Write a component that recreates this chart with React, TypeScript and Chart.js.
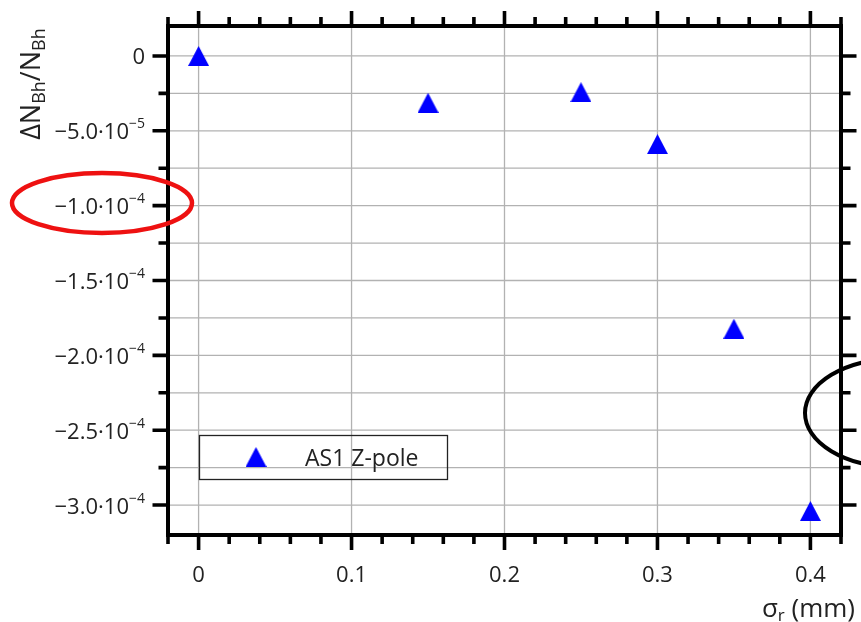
import React, { useEffect, useRef } from "react";
import { Chart, registerables } from "chart.js";

Chart.register(...registerables);

// Measured points: relative change of the normal harmonic vs. radial misalignment
const sigmaR = [0, 0.15, 0.25, 0.3, 0.35, 0.4];
const deltaN = [0, -3.13e-5, -2.42e-5, -5.89e-5, -1.822e-4, -3.04e-4];
const seriesLabel = "AS1 Z-pole";

// Axis ticks
const xMajorTicks = [0, 0.1, 0.2, 0.3, 0.4];
const xTickLabels = ["0", "0.1", "0.2", "0.3", "0.4"];
const xMinorTicks = [
  -0.02, 0.02, 0.04, 0.06, 0.08, 0.12, 0.14, 0.16, 0.18, 0.22, 0.24, 0.26,
  0.28, 0.32, 0.34, 0.36, 0.38, 0.42,
];
const yMajorTicks = [0, -5e-5, -1e-4, -1.5e-4, -2e-4, -2.5e-4, -3e-4];
const yTickMantissas = ["0", "−5.0·10", "−1.0·10", "−1.5·10", "−2.0·10", "−2.5·10", "−3.0·10"];
const yTickExponents = ["", "−5", "−4", "−4", "−4", "−4", "−4"];
const yMinorTicks = [-2.5e-5, -7.5e-5, -1.25e-4, -1.75e-4, -2.25e-4, -2.75e-4];

const FONT = '"Open Sans", "Noto Sans", "DejaVu Sans", sans-serif';
const TEXT = "#222222";

type Seg = { text: string; size: number; dy?: number };

function richWidth(ctx: CanvasRenderingContext2D, segs: Seg[]) {
  let w = 0;
  for (const s of segs) {
    ctx.font = `${s.size}px ${FONT}`;
    w += ctx.measureText(s.text).width;
  }
  return w;
}

function drawRich(
  ctx: CanvasRenderingContext2D,
  segs: Seg[],
  x: number,
  y: number,
  align: "left" | "right" | "center"
) {
  const w = richWidth(ctx, segs);
  let cx = align === "left" ? x : align === "right" ? x - w : x - w / 2;
  ctx.textAlign = "left";
  ctx.textBaseline = "alphabetic";
  for (const s of segs) {
    ctx.font = `${s.size}px ${FONT}`;
    ctx.fillText(s.text, cx, y + (s.dy || 0));
    cx += ctx.measureText(s.text).width;
  }
}

function makeMarker() {
  const c = document.createElement("canvas");
  c.width = 21;
  c.height = 20;
  const m = c.getContext("2d")!;
  m.fillStyle = "#0000ff";
  m.beginPath();
  m.moveTo(10.5, 0);
  m.lineTo(21, 20);
  m.lineTo(0, 20);
  m.closePath();
  m.fill();
  return c;
}

const framePlugin = {
  id: "frameAndLabels",
  beforeDatasetsDraw(chart: any) {
    const { ctx, chartArea } = chart;
    const xs = chart.scales.x;
    const ys = chart.scales.y;
    const { left, right, top, bottom } = chartArea;
    ctx.save();
    ctx.strokeStyle = "#b2b2b2";
    ctx.lineWidth = 1.3;
    ctx.beginPath();
    for (const v of xMajorTicks) {
      const px = xs.getPixelForValue(v);
      ctx.moveTo(px, top);
      ctx.lineTo(px, bottom);
    }
    for (const v of [...yMajorTicks, ...yMinorTicks]) {
      const py = ys.getPixelForValue(v);
      ctx.moveTo(left, py);
      ctx.lineTo(right, py);
    }
    ctx.stroke();
    ctx.restore();
  },
  afterDatasetsDraw(chart: any, _args: any, opts: any) {
    const { ctx, chartArea } = chart;
    const xs = chart.scales.x;
    const ys = chart.scales.y;
    const { left, right, top, bottom } = chartArea;
    ctx.save();

    // frame
    ctx.strokeStyle = "#000";
    ctx.lineWidth = 4;
    ctx.lineJoin = "miter";
    ctx.strokeRect(left, top, right - left, bottom - top);

    // ticks on all four sides, pointing outward
    ctx.lineWidth = 3.6;
    ctx.lineCap = "butt";
    ctx.beginPath();
    const xTick = (v: number, len: number) => {
      const px = xs.getPixelForValue(v);
      ctx.moveTo(px, bottom);
      ctx.lineTo(px, bottom + len);
      ctx.moveTo(px, top);
      ctx.lineTo(px, top - len);
    };
    const yTick = (v: number, len: number) => {
      const py = ys.getPixelForValue(v);
      ctx.moveTo(left, py);
      ctx.lineTo(left - len, py);
      ctx.moveTo(right, py);
      ctx.lineTo(right + len, py);
    };
    xMajorTicks.forEach((v) => xTick(v, 15));
    xMinorTicks.forEach((v) => xTick(v, 9));
    yMajorTicks.forEach((v) => yTick(v, 15.5));
    yMinorTicks.forEach((v) => yTick(v, 9.5));
    ctx.stroke();

    // tick labels
    ctx.fillStyle = TEXT;
    xMajorTicks.forEach((v, i) => {
      drawRich(ctx, [{ text: xTickLabels[i], size: 22 }], xs.getPixelForValue(v), bottom + 47, "center");
    });
    yMajorTicks.forEach((v, i) => {
      const segs: Seg[] = [{ text: yTickMantissas[i], size: 22 }];
      if (yTickExponents[i]) segs.push({ text: yTickExponents[i], size: 14, dy: -11 });
      drawRich(ctx, segs, left - 23, ys.getPixelForValue(v) + 8.5, "right");
    });

    // axis titles
    drawRich(
      ctx,
      [
        { text: "σ", size: 26 },
        { text: "r", size: 17, dy: 4 },
        { text: " (mm)", size: 26 },
      ],
      855,
      617,
      "right"
    );
    ctx.save();
    ctx.translate(40, 84);
    ctx.rotate(-Math.PI / 2);
    drawRich(
      ctx,
      [
        { text: "ΔN", size: 27 },
        { text: "Bh", size: 18, dy: 5 },
        { text: "/N", size: 27 },
        { text: "Bh", size: 18, dy: 5 },
      ],
      0,
      0,
      "center"
    );
    ctx.restore();

    // legend box inside the plot
    const lx = left + 31;
    const ly = top + 409;
    ctx.strokeStyle = "#222";
    ctx.lineWidth = 1.3;
    ctx.strokeRect(lx + 0.5, ly + 0.5, 248, 44);
    const mk = opts.marker as HTMLCanvasElement;
    ctx.drawImage(mk, lx + 57 - mk.width / 2, ly + 22 - mk.height / 2);
    ctx.fillStyle = TEXT;
    drawRich(ctx, [{ text: seriesLabel, size: 23 }], lx + 106, ly + 31, "left");

    // highlight ellipses
    ctx.lineWidth = 4.5;
    ctx.strokeStyle = "#ee1111";
    ctx.beginPath();
    ctx.ellipse(102, 203, 90, 30, 0, 0, Math.PI * 2);
    ctx.stroke();
    ctx.lineWidth = 4;
    ctx.strokeStyle = "#000";
    ctx.beginPath();
    ctx.ellipse(895, 413, 90, 54, 0, 0, Math.PI * 2);
    ctx.stroke();

    ctx.restore();
  },
};

export default function App() {
  const ref = useRef<HTMLCanvasElement | null>(null);

  useEffect(() => {
    if (!ref.current) return;
    const marker = makeMarker();
    const chart = new Chart(ref.current, {
      type: "scatter",
      data: {
        datasets: [
          {
            label: seriesLabel,
            data: sigmaR.map((x, i) => ({ x, y: deltaN[i] })),
            pointStyle: marker as any,
            pointRadius: 10,
            pointHoverRadius: 10,
            showLine: false,
            clip: false as any,
          },
        ],
      },
      options: {
        animation: false,
        responsive: false,
        maintainAspectRatio: false,
        events: [],
        layout: { padding: { left: 168, top: 26, right: 20, bottom: 87 } },
        plugins: {
          legend: { display: false },
          tooltip: { enabled: false },
          frameAndLabels: { marker },
        } as any,
        scales: {
          x: { type: "linear", display: false, min: -0.02, max: 0.42 },
          y: { type: "linear", display: false, min: -3.2e-4, max: 2e-5 },
        },
      },
      plugins: [framePlugin],
    });
    return () => chart.destroy();
  }, []);

  return (
    <div style={{ position: "fixed", left: 0, top: 0, width: 861, height: 622, background: "#fff" }}>
      <canvas ref={ref} width={861} height={622} style={{ width: 861, height: 622, display: "block" }} />
    </div>
  );
}
